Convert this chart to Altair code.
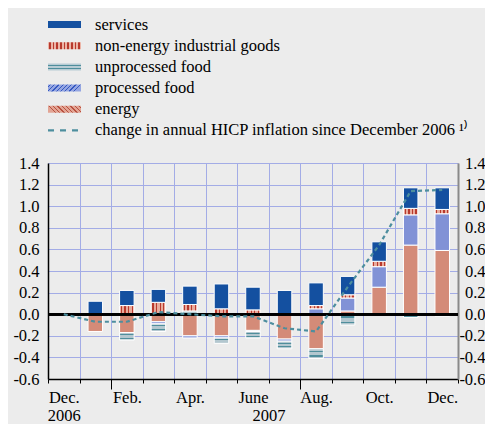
import json
import altair as alt
import pandas as pd

# ---------------- data ----------------
months = ["2006-12", "2007-01", "2007-02", "2007-03", "2007-04", "2007-05", "2007-06",
          "2007-07", "2007-08", "2007-09", "2007-10", "2007-11", "2007-12"]
month_labels = [["Dec.", "2006"], "", "Feb.", "", "Apr.", "", "June", ["", "2007"],
                "Aug.", "", "Oct.", "", "Dec."]

categories = ["energy", "processed food", "unprocessed food",
              "non-energy industrial goods", "services"]
energy = [0, -0.16, -0.17, -0.07, -0.20, -0.20, -0.15, -0.23, -0.32, 0.03, 0.25, 0.64, 0.59]
processed = [0, 0, 0, -0.02, -0.02, -0.02, -0.01, -0.02, 0.05, 0.12, 0.19, 0.28, 0.34]
unprocessed = [0, 0, -0.07, -0.07, 0.03, -0.05, -0.06, -0.07, -0.09, -0.10, -0.01, -0.03, -0.02]
neig = [0, 0, 0.08, 0.11, 0.06, 0.05, 0.04, 0, 0.03, 0.03, 0.05, 0.06, 0.04]
services = [0, 0.12, 0.14, 0.12, 0.17, 0.23, 0.21, 0.22, 0.21, 0.17, 0.18, 0.19, 0.20]
hicp = [0.0, -0.07, -0.07, 0.02, 0.0, -0.02, -0.02, -0.13, -0.16, 0.25, 0.64, 1.14, 1.15]

y_ticks = [-0.6, -0.4, -0.2, 0.0, 0.2, 0.4, 0.6, 0.8, 1.0, 1.2, 1.4]

legend_labels = ["services", "non-energy industrial goods", "unprocessed food",
                 "processed food", "energy",
                 "change in annual HICP inflation since December 2006 \u00b9\u207e"]

# ---------------- styles ----------------
FONT = "Liberation Serif, Times New Roman, serif"
FS = 16.5
BG = "#ececec"
GRID = "#a3ace6"
C_SERV = "#1450a0"
C_LINE = "#4d8e9e"
C_ENERGY = "#d48b78"
C_PROC = "#8192d6"


def stripes(bg, fg, n, frac, x1=0, y1=0, x2=1, y2=0):
    stops = [alt.GradientStop(offset=0, color=bg)]
    for i in range(n):
        a = (i + 0.5 - frac / 2) / n
        b = (i + 0.5 + frac / 2) / n
        stops += [alt.GradientStop(offset=a, color=bg), alt.GradientStop(offset=a, color=fg),
                  alt.GradientStop(offset=b, color=fg), alt.GradientStop(offset=b, color=bg)]
    stops.append(alt.GradientStop(offset=1, color=bg))
    return alt.LinearGradient(gradient="linear", stops=stops, x1=x1, y1=y1, x2=x2, y2=y2)


bar_fill = {
    "services": C_SERV,
    "non-energy industrial goods": stripes("#e9ab9c", "#b8392d", 4, 0.35),
    "unprocessed food": stripes("#b3c7cf", "#4f8e9c", 2, 0.28, 0, 0, 0, 1),
    "processed food": C_PROC,
    "energy": C_ENERGY,
}
legend_fill = {
    "services": C_SERV,
    "non-energy industrial goods": stripes("#ecb4a6", "#b8392d", 9, 0.4),
    "unprocessed food": stripes("#b8ccd4", "#4f8e9c", 2, 0.3, 0, 0, 0, 1),
    "processed food": stripes("#95a6e2", "#3558c0", 8, 0.3, 0, 0, 1, 0.21),
    "energy": stripes("#e2a494", "#b8503f", 8, 0.3, 0, 0.21, 1, 0),
}

# ---------------- tables ----------------
series = {"energy": energy, "processed food": processed, "unprocessed food": unprocessed,
          "non-energy industrial goods": neig, "services": services}
rows = []
for k, c in enumerate(categories):
    for m, v in zip(months, series[c]):
        rows.append({"month": m, "category": c, "value": v, "order": k})
bars_df = pd.DataFrame(rows)
line_df = pd.DataFrame({"month": months, "hicp": hicp})
legend_df = pd.DataFrame({"label": legend_labels,
                          "key": ["services", "non-energy industrial goods", "unprocessed food",
                                  "processed food", "energy", "line"]})

# ---------------- main chart ----------------
W, H = 410, 216
yscale = alt.Scale(domain=[-0.6, 1.4], nice=False, zero=False)
ylabel = "replace(format(datum.value, '.1f'), '\u2212', '-')"

long_tick = "datum.value == '2007-01' || datum.value == '2007-07'"
x_label_expr = f"{json.dumps(month_labels)}[indexof({json.dumps(months)}, datum.value)]"
X = alt.X("month:N", sort=months, title=None,
          scale=alt.Scale(paddingInner=0, paddingOuter=0),
          axis=alt.Axis(tickBand="extent", grid=True, gridColor=GRID, gridWidth=1,
                        domainColor="black", domainWidth=1.5, tickColor="black",
                        tickSize={"condition": {"test": long_tick, "value": 10}, "value": 4},
                        labelExpr=x_label_expr, labelAngle=0,
                        labelPadding={"condition": {"test": long_tick, "value": 0}, "value": 6},
                        labelBaseline="top", labelLineHeight=18,
                        labelOffset={"condition": {"test": "datum.value == '2007-07'", "value": -16},
                                     "value": 0},
                        labelFont=FONT, labelFontSize=FS, labelColor="black"))

base = (alt.Chart(bars_df)
        .transform_filter("datum.value != 0")
        .transform_stack(stack="value", groupby=["month"], as_=["y0", "y1"],
                         sort=[alt.SortField("order", "ascending")], offset="zero"))

bar_layers = []
for c in categories:
    if c == "services":
        yaxis = alt.Axis(values=y_ticks, labelExpr=ylabel, grid=True, gridColor=GRID,
                         gridWidth=1, domainColor="black", domainWidth=1.5, ticks=False,
                         labelPadding=9, labelFont=FONT, labelFontSize=FS,
                         labelColor="black", title=None)
    else:
        yaxis = None
    bar_layers.append(
        base.transform_filter(alt.datum.category == c)
        .mark_bar(fill=bar_fill[c], stroke="white", strokeWidth=1,
                  width=alt.RelativeBandSize(0.46))
        .encode(x=X, y=alt.Y("y0:Q", scale=yscale, axis=yaxis), y2="y1:Q")
    )

zero_rule = (alt.Chart(line_df).mark_rule(color="black", strokeWidth=2)
             .encode(y=alt.YDatum(0, axis=None, scale=yscale)))

line = (alt.Chart(line_df)
        .mark_line(color=C_LINE, strokeWidth=2.2, strokeDash=[4, 3])
        .encode(x=X,
                y=alt.Y("hicp:Q", scale=yscale,
                        axis=alt.Axis(orient="right", values=y_ticks, labelExpr=ylabel,
                                      grid=False, ticks=False, domainColor="#8a8a8a",
                                      domainWidth=2, labelPadding=27, labelAlign="right",
                                      labelFont=FONT, labelFontSize=FS,
                                      labelColor="black", title=None))))

main = (alt.layer(*bar_layers, zero_rule, line)
        .resolve_axis(y="independent")
        .properties(width=W, height=H))

# ---------------- legend ----------------
LY = alt.Y("label:N", sort=legend_labels, axis=None,
           scale=alt.Scale(paddingInner=0, paddingOuter=0))
leg_layers = []
for c in ["services", "non-energy industrial goods", "unprocessed food", "processed food", "energy"]:
    leg_layers.append(
        alt.Chart(legend_df).transform_filter(alt.datum.key == c)
        .mark_bar(fill=legend_fill[c], height=7)
        .encode(x=alt.value(0), x2=alt.value(33), y=LY))
leg_layers.append(
    alt.Chart(legend_df).transform_filter(alt.datum.key == "line")
    .mark_rule(color=C_LINE, strokeWidth=2.2, strokeDash=[6, 6])
    .encode(x=alt.value(0), x2=alt.value(33), y=LY))
leg_layers.append(
    alt.Chart(legend_df).mark_text(align="left", baseline="middle", font=FONT,
                                   fontSize=FS, color="black")
    .encode(x=alt.value(47), y=LY, text="label:N"))
legend = alt.layer(*leg_layers).properties(width=W, height=127)

chart = (alt.vconcat(legend, main, spacing=14)
         .configure(background=BG, padding={"left": 4, "top": 6, "right": 0, "bottom": 0})
         .configure_view(stroke=None))

chart.save("out.html", embed_options={"renderer": "svg", "actions": False})
